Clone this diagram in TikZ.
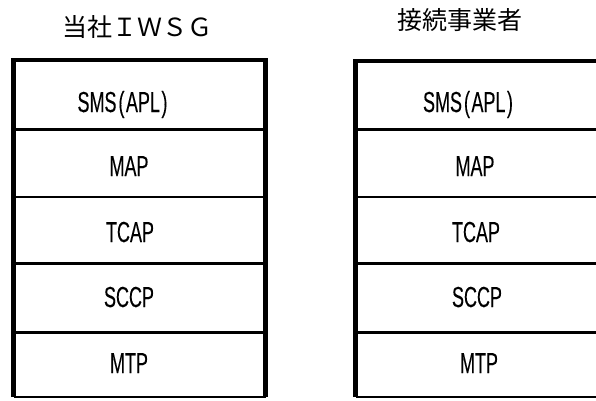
\documentclass[tikz,border=0pt]{standalone}
\usepackage{fontspec}
\newfontfamily\jpfont{Noto Sans CJK JP}
\newfontfamily\narrowfont[FakeStretch=0.62,FakeBold=0.12]{Liberation Sans}
\begin{document}
\begin{tikzpicture}[x=1pt,y=-1pt,
  frame/.style={line width=4.5pt},
  bottomline/.style={line width=2.6pt},
  divider/.style={line width=2.4pt},
  layer/.style={font=\narrowfont\fontsize{29}{29}\selectfont, inner sep=0pt, anchor=base},
  title/.style={font=\jpfont\fontsize{25}{25}\selectfont, inner sep=0pt, anchor=center}]
\useasboundingbox (0,0) rectangle (596,400);
% left stack
\draw[frame] (13.5,397) -- (13.5,60) -- (265.5,60) -- (265.5,397);
\draw[bottomline] (13.5,397) -- (265.5,397);
\foreach \y in {129.5,197,263.5,332.5} \draw[divider] (13.5,\y) -- (265.5,\y);
% right stack
\draw[frame] (355.5,397) -- (355.5,61) -- (596,61);
\draw[bottomline] (355.5,397) -- (596,397);
\foreach \y in {129.5,197,263.5,332.5} \draw[divider] (355.5,\y) -- (596,\y);
% titles
\node[title] (t1) at (137,27) {当社ＩＷＳＧ};
\node[title] (t2) at (459.5,20) {接続事業者};
% layer labels left
\node[layer] (l1) at (122.5,112) {SMS\kern2pt(\kern1.5pt APL\kern1.5pt)};
\node[layer] (l2) at (129,176) {MAP};
\node[layer] (l3) at (130,242) {TCAP};
\node[layer] (l4) at (129,307) {SCCP};
\node[layer] (l5) at (129,373) {MTP};
% layer labels right
\node[layer] (r1) at (468,112) {SMS\kern2pt(\kern1.5pt APL\kern1.5pt)};
\node[layer] (r2) at (475,176) {MAP};
\node[layer] (r3) at (476,242) {TCAP};
\node[layer] (r4) at (477,307) {SCCP};
\node[layer] (r5) at (479,373) {MTP};
\end{tikzpicture}
\end{document}
